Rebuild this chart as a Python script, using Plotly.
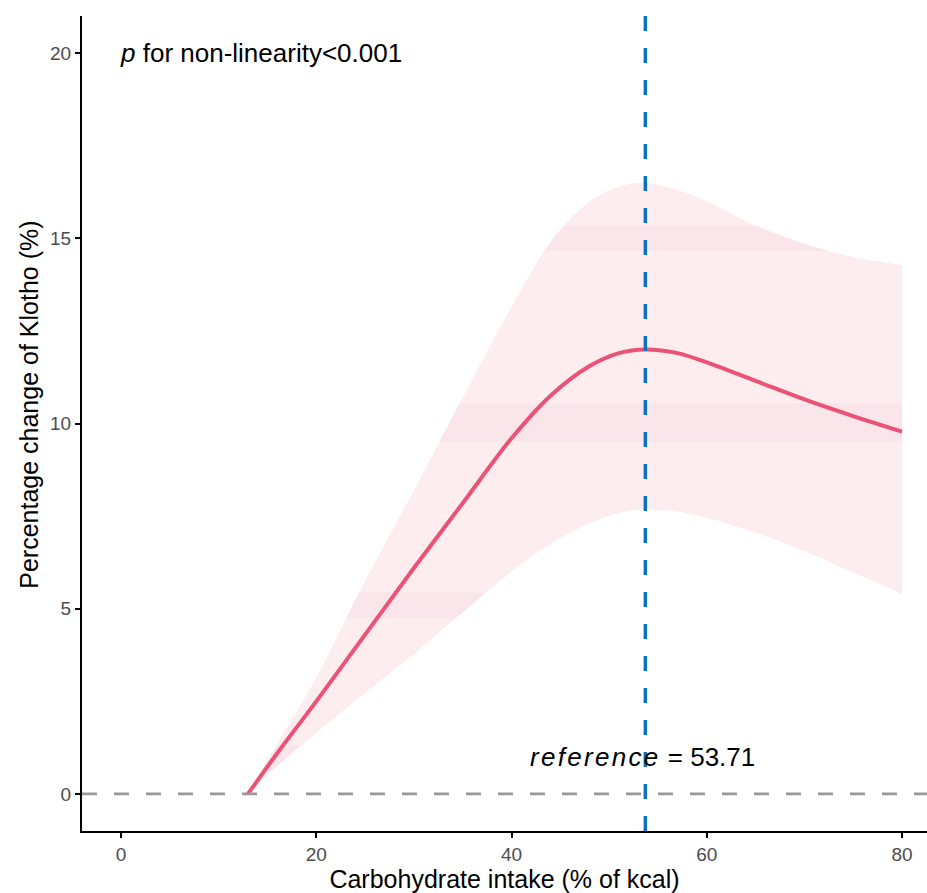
import plotly.graph_objects as go

# Data
carb_x = [13, 16, 20, 25, 30, 35, 40, 44, 48, 51, 53.71, 57, 60, 65, 70, 75, 80]
fit_y = [0, 1.1, 2.5, 4.3, 6.1, 7.85, 9.6, 10.75, 11.55, 11.9, 12.0, 11.9, 11.65, 11.15, 10.65, 10.2, 9.78]
upper_y = [0, 1.35, 3.15, 5.75, 8.2, 10.7, 13.15, 14.9, 16.0, 16.4, 16.5, 16.3, 16.0, 15.35, 14.85, 14.5, 14.28]
lower_y = [0, 0.75, 1.65, 2.72, 3.78, 4.9, 6.0, 6.75, 7.3, 7.58, 7.67, 7.62, 7.45, 7.05, 6.55, 5.97, 5.4]

ref_value = 53.71
x_ticks = [0, 20, 40, 60, 80]
y_ticks = [0, 5, 10, 15, 20]
x_range = [-4, 82.56]
y_range = [-1, 21]

# faint overlap bands visible inside the confidence ribbon (y ranges)
band_lo = [0.65, 4.75, 9.53, 14.66]
band_hi = [1.32, 5.43, 10.55, 15.33]

FONT = "Liberation Sans, Arial, sans-serif"
RIBBON = "#FDEDEE"
BAND = "#FAE5EA"

fig = go.Figure()
spl = dict(width=0, shape="spline")
# ribbon
fig.add_trace(go.Scatter(x=carb_x, y=lower_y, mode="lines", line=spl, hoverinfo="skip"))
fig.add_trace(go.Scatter(x=carb_x, y=upper_y, mode="lines", line=spl,
                         fill="tonexty", fillcolor=RIBBON, hoverinfo="skip"))
# bands (clipped to the ribbon by the white masks below)
x0, x1 = carb_x[0], carb_x[-1]
for lo, hi in zip(band_lo, band_hi):
    fig.add_trace(go.Scatter(x=[x0, x1, x1, x0, x0], y=[lo, lo, hi, hi, lo], mode="lines",
                             line=dict(width=0), fill="toself", fillcolor=BAND, hoverinfo="skip"))
# white masks outside the ribbon
fig.add_trace(go.Scatter(x=carb_x, y=upper_y, mode="lines", line=spl, hoverinfo="skip"))
fig.add_trace(go.Scatter(x=carb_x, y=[y_range[1]] * len(carb_x), mode="lines", line=dict(width=0),
                         fill="tonexty", fillcolor="white", hoverinfo="skip"))
fig.add_trace(go.Scatter(x=carb_x, y=lower_y, mode="lines", line=spl, hoverinfo="skip"))
fig.add_trace(go.Scatter(x=carb_x, y=[y_range[0]] * len(carb_x), mode="lines", line=dict(width=0),
                         fill="tonexty", fillcolor="white", hoverinfo="skip"))
# fitted curve
fig.add_trace(go.Scatter(x=carb_x, y=fit_y, mode="lines",
                         line=dict(color="#EC5275", width=4, shape="spline")))

# horizontal zero line
fig.add_shape(type="line", xref="paper", x0=0, x1=1, yref="y", y0=0, y1=0,
              line=dict(color="#999999", width=2.7, dash="15px,17px"), layer="above")
# vertical reference line
fig.add_shape(type="line", xref="x", x0=ref_value, x1=ref_value, yref="paper", y0=0, y1=1,
              line=dict(color="#0A72BE", width=3.5, dash="15px,17px"), layer="above")

fig.add_annotation(x=-0.3, y=20, xref="x", yref="y", xanchor="left", yanchor="middle",
                   text="<i>p</i> for non-linearity&lt;0.001", showarrow=False,
                   font=dict(family=FONT, size=26, color="black"))
fig.add_annotation(x=41.7, y=1.0, xref="x", yref="y", xanchor="left", yanchor="middle",
                   text="<span style=\"letter-spacing:2.3px\"><i>reference</i></span> = 53.71",
                   showarrow=False,
                   font=dict(family=FONT, size=26, color="black"))
# y-axis title
fig.add_annotation(x=-0.0627, y=0.523, xref="paper", yref="paper", xanchor="center", yanchor="middle",
                   text="Percentage change of Klotho (%)", textangle=-90, showarrow=False,
                   font=dict(family=FONT, size=25, color="black"))

fig.update_layout(
    width=927, height=893,
    margin=dict(l=82, r=0, t=16, b=62),
    plot_bgcolor="white", paper_bgcolor="white",
    font=dict(family=FONT),
    showlegend=False,
)
fig.update_xaxes(range=x_range, tickvals=x_ticks, ticks="outside", ticklen=5, tickwidth=1.5,
                 tickcolor="black", showline=True, linecolor="black", linewidth=2,
                 showgrid=False, zeroline=False, layer="above traces",
                 tickfont=dict(family=FONT, size=19, color="#4D4D4D"),
                 title=dict(text="Carbohydrate intake (% of kcal)", standoff=3,
                            font=dict(family=FONT, size=25, color="black")),
                 automargin=False)
fig.update_yaxes(range=y_range, tickvals=y_ticks, ticks="outside", ticklen=5, tickwidth=1.5,
                 tickcolor="black", showline=True, linecolor="black", linewidth=2,
                 showgrid=False, zeroline=False, layer="above traces",
                 tickfont=dict(family=FONT, size=19, color="#4D4D4D"),
                 automargin=False)

fig.write_html("out.html", config={"displayModeBar": False},
               post_script="document.body.style.margin='0';document.body.style.padding='0';")
